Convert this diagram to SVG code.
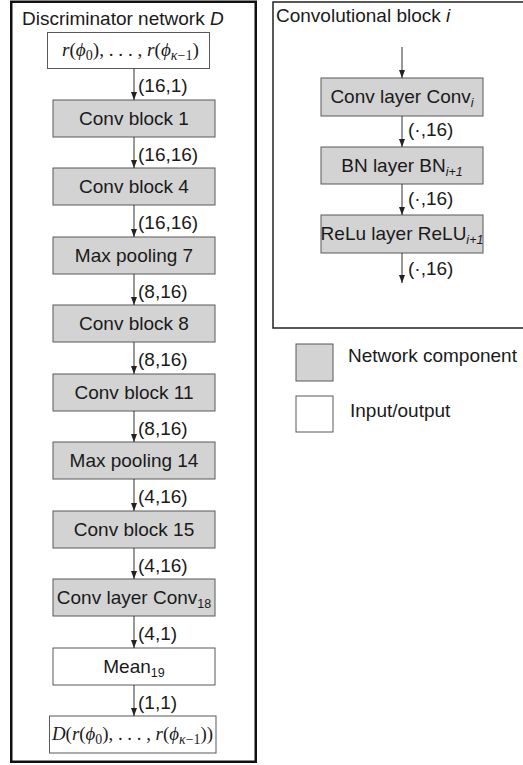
<svg xmlns="http://www.w3.org/2000/svg" width="523" height="765" viewBox="0 0 523 765">
<defs>
<style>
text{font-family:"Liberation Sans",Arial,sans-serif;font-size:19px;fill:#1a1a1a}
.c{text-anchor:middle}
.math{font-family:"Liberation Serif","Times New Roman",serif;font-size:19px}
.it{font-style:italic}
.sub{font-size:12.5px}
.msub{font-size:14px}
.comp{fill:#d3d3d3;stroke:#595959;stroke-width:1}
.io{fill:#ffffff;stroke:#595959;stroke-width:1}
.edge{stroke:#333;stroke-width:1;fill:none;marker-end:url(#ah)}
</style>
<marker id="ah" viewBox="0 0 8 8" refX="8" refY="4" markerWidth="8" markerHeight="8" markerUnits="userSpaceOnUse" orient="auto">
<path d="M0,1 L8,4 L0,7 Z" fill="#222"/>
</marker>
</defs>
<rect width="523" height="765" fill="#ffffff"/>

<g id="panel-discriminator">
<rect x="11.25" y="1.75" width="244.5" height="760" fill="none" stroke="#111" stroke-width="2.5"/>
<text x="22" y="25">Discriminator network <tspan class="it">D</tspan></text>
</g>

<g id="panel-convblock">
<rect x="273" y="2" width="262" height="326" fill="none" stroke="#222" stroke-width="1.5"/>
<text x="276" y="22">Convolutional block <tspan class="it">i</tspan></text>
</g>

<g id="n-input">
<rect class="io" x="47.5" y="32.5" width="162" height="36"/>
<text class="math" x="62" y="56" textLength="137" lengthAdjust="spacingAndGlyphs"><tspan class="it">r</tspan>(<tspan class="it">ϕ</tspan><tspan class="msub" dy="4">0</tspan><tspan dy="-4">), . . . , </tspan><tspan class="it">r</tspan>(<tspan class="it">ϕ</tspan><tspan class="msub it" dy="4">κ</tspan><tspan class="msub">−1</tspan><tspan dy="-4">)</tspan></text>
</g>
<g id="n-cb1"><rect class="comp" x="53" y="100" width="162" height="37"/><text class="c" x="134" y="125">Conv block 1</text></g>
<g id="n-cb4"><rect class="comp" x="53" y="168" width="162" height="37"/><text class="c" x="134" y="193">Conv block 4</text></g>
<g id="n-mp7"><rect class="comp" x="53" y="237" width="162" height="37"/><text class="c" x="134" y="262">Max pooling 7</text></g>
<g id="n-cb8"><rect class="comp" x="53" y="305" width="162" height="37"/><text class="c" x="134" y="330">Conv block 8</text></g>
<g id="n-cb11"><rect class="comp" x="53" y="374" width="162" height="37"/><text class="c" x="134" y="399">Conv block 11</text></g>
<g id="n-mp14"><rect class="comp" x="53" y="442" width="162" height="37"/><text class="c" x="134" y="467">Max pooling 14</text></g>
<g id="n-cb15"><rect class="comp" x="53" y="511" width="162" height="37"/><text class="c" x="134" y="536">Conv block 15</text></g>
<g id="n-conv18"><rect class="comp" x="53" y="579" width="162" height="37"/><text class="c" x="134" y="604">Conv layer Conv<tspan class="sub" dy="4">18</tspan></text></g>
<g id="n-mean19"><rect class="io" x="53" y="648" width="162" height="37"/><text class="c" x="134" y="673">Mean<tspan class="sub" dy="4">19</tspan></text></g>
<g id="n-output">
<rect class="io" x="49.5" y="716" width="166.5" height="37"/>
<text class="math" x="52" y="740" textLength="161" lengthAdjust="spacingAndGlyphs"><tspan class="it">D</tspan>(<tspan class="it">r</tspan>(<tspan class="it">ϕ</tspan><tspan class="msub" dy="4">0</tspan><tspan dy="-4">), . . . , </tspan><tspan class="it">r</tspan>(<tspan class="it">ϕ</tspan><tspan class="msub it" dy="4">κ</tspan><tspan class="msub">−1</tspan><tspan dy="-4">))</tspan></text>
</g>

<g id="n-convi"><rect class="comp" x="321" y="78" width="162" height="38"/><text class="c" x="402" y="103">Conv layer Conv<tspan class="sub it" dy="4">i</tspan></text></g>
<g id="n-bn"><rect class="comp" x="321" y="147" width="162" height="37"/><text class="c" x="402" y="172">BN layer BN<tspan class="sub it" dy="4">i+1</tspan></text></g>
<g id="n-relu"><rect class="comp" x="321" y="215" width="162" height="38"/><text class="c" x="402" y="240">ReLu layer ReLU<tspan class="sub it" dy="4">i+1</tspan></text></g>

<g id="legend">
<rect class="comp" x="296" y="344" width="37" height="37"/>
<text x="348" y="362">Network component</text>
<rect class="io" x="296" y="396" width="37" height="36"/>
<text x="350" y="417">Input/output</text>
</g>

<g id="connectors">
<line class="edge" x1="134" y1="68.5" x2="134" y2="100"/>
<line class="edge" x1="134" y1="137" x2="134" y2="168"/>
<line class="edge" x1="134" y1="205" x2="134" y2="237"/>
<line class="edge" x1="134" y1="274" x2="134" y2="305"/>
<line class="edge" x1="134" y1="342" x2="134" y2="374"/>
<line class="edge" x1="134" y1="411" x2="134" y2="442"/>
<line class="edge" x1="134" y1="479" x2="134" y2="511"/>
<line class="edge" x1="134" y1="548" x2="134" y2="579"/>
<line class="edge" x1="134" y1="616" x2="134" y2="648"/>
<line class="edge" x1="134" y1="685" x2="134" y2="716"/>
<line class="edge" x1="402" y1="47" x2="402" y2="78"/>
<line class="edge" x1="402" y1="116" x2="402" y2="147"/>
<line class="edge" x1="402" y1="184" x2="402" y2="215"/>
<line class="edge" x1="402" y1="253" x2="402" y2="283"/>
<text x="138" y="92">(16,1)</text>
<text x="138" y="161">(16,16)</text>
<text x="138" y="229">(16,16)</text>
<text x="138" y="298">(8,16)</text>
<text x="138" y="366">(8,16)</text>
<text x="138" y="435">(8,16)</text>
<text x="138" y="503">(4,16)</text>
<text x="138" y="572">(4,16)</text>
<text x="138" y="640">(4,1)</text>
<text x="138" y="709">(1,1)</text>
<text x="408" y="136">(·,16)</text>
<text x="408" y="205">(·,16)</text>
<text x="408" y="275">(·,16)</text>
</g>
</svg>
